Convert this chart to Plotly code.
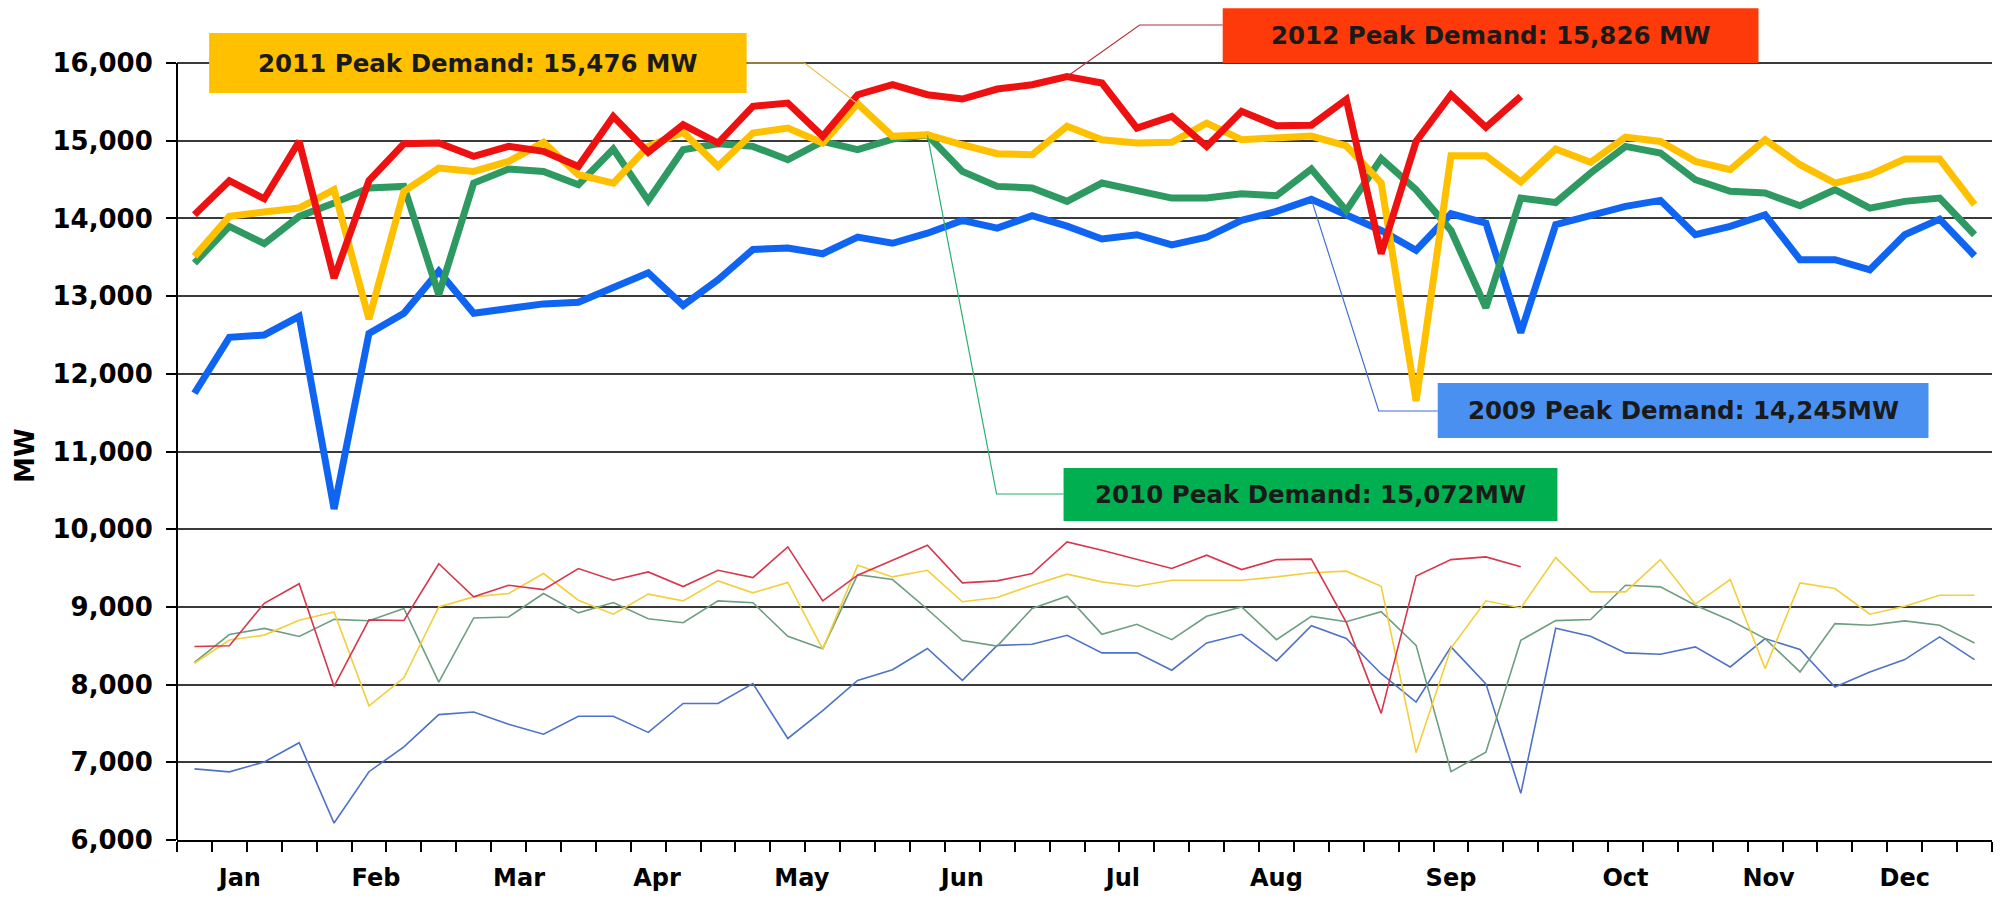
import plotly.graph_objects as go

# ---------------- data ----------------
weeks = list(range(1, 53))

peak_2009 = [11750, 12470, 12500, 12740, 10260, 12520, 12780, 13320, 12780, 12840,
             12900, 12920, 13120, 13300, 12880, 13210, 13600, 13620, 13545, 13760,
             13680, 13810, 13975, 13875, 14035, 13900, 13735, 13790, 13660, 13760,
             13975, 14090, 14245, 14040, 13845, 13590, 14060, 13940, 12530, 13920,
             14047, 14155, 14232, 13790, 13897, 14047, 13468, 13468, 13339, 13790,
             13991, 13519]
peak_2010 = [13425, 13897, 13674, 14026, 14197, 14391, 14412, 13017, 14455, 14635,
             14605, 14433, 14893, 14230, 14884, 14961, 14927, 14755, 14991, 14884,
             15021, 15072, 14605, 14412, 14391, 14219, 14455, 14361, 14262, 14262,
             14318, 14292, 14635, 14100, 14770, 14370, 13845, 12850, 14262, 14205,
             14584, 14927, 14841, 14498, 14348, 14326, 14163, 14369, 14133, 14219,
             14262, 13790]
peak_2011 = [13511, 14026, 14082, 14133, 14369, 12704, 14348, 14648, 14605, 14734,
             14979, 14562, 14455, 14927, 15110, 14670, 15099, 15163, 14970, 15476,
             15056, 15077, 14948, 14833, 14820, 15185, 15013, 14970, 14979, 15227,
             15013, 15034, 15060, 14935, 14457, 11650, 14808, 14808, 14470, 14893,
             14721, 15047, 14991, 14734, 14627, 15013, 14691, 14455, 14562, 14764,
             14764, 14176]
peak_2012 = [14047, 14485, 14253, 14991, 13232, 14485, 14961, 14970, 14800, 14927,
             14863, 14670, 15313, 14850, 15206, 14970, 15442, 15485, 15056, 15592,
             15721, 15592, 15536, 15665, 15721, 15826, 15742, 15163, 15313, 14927,
             15378, 15193, 15200, 15530, 13545, 14991, 15592, 15172, 15571]

min_2009 = [6915, 6877, 7005, 7252, 6218, 6879, 7198, 7614, 7648, 7489,
            7361, 7592, 7592, 7385, 7757, 7757, 8012, 7307, 7665, 8053,
            8192, 8465, 8055, 8505, 8519, 8635, 8408, 8408, 8185, 8536,
            8648, 8305, 8757, 8593, 8140, 7776, 8486, 8010, 6600, 8725,
            8622, 8408, 8391, 8485, 8227, 8592, 8451, 7970, 8163, 8322,
            8614, 8322]
min_2010 = [8285, 8644, 8723, 8620, 8840, 8821, 8979, 8032, 8858, 8871,
            9172, 8923, 9056, 8848, 8797, 9078, 9053, 8622, 8463, 9414,
            9352, 8970, 8567, 8495, 8979, 9137, 8648, 8777, 8579, 8880,
            9000, 8579, 8878, 8810, 8938, 8505, 6880, 7130, 8570, 8823,
            8837, 9279, 9258, 9021, 8828, 8592, 8163, 8785, 8764, 8820,
            8764, 8536]
min_2011 = [8275, 8573, 8637, 8829, 8936, 7727, 8088, 9000, 9129, 9172,
            9429, 9086, 8906, 9164, 9078, 9335, 9181, 9315, 8456, 9535,
            9386, 9471, 9066, 9121, 9279, 9421, 9322, 9266, 9343, 9343,
            9343, 9386, 9440, 9460, 9264, 7124, 8470, 9078, 8987, 9635,
            9193, 9193, 9609, 9034, 9352, 8206, 9309, 9236, 8906, 9009,
            9150, 9150]
min_2012 = [8490, 8500, 9047, 9298, 7977, 8833, 8825, 9555, 9129, 9279,
            9223, 9494, 9343, 9450, 9262, 9471, 9377, 9773, 9078, 9408,
            9601, 9794, 9309, 9335, 9429, 9837, 9730, 9609, 9494, 9665,
            9481, 9609, 9615, 8800, 7630, 9397, 9609, 9644, 9518]

month_labels = ["Jan", "Feb", "Mar", "Apr", "May", "Jun",
                "Jul", "Aug", "Sep", "Oct", "Nov", "Dec"]
month_pos = [2.3, 6.2, 10.3, 14.25, 18.4, 23.0, 27.6, 32.0, 37.0, 42.0, 46.1, 50.0]

y_ticks = list(range(6000, 16001, 1000))

# ---------------- styles ----------------
FONT = "DejaVu Sans"
thick = {
    "2009": "#0F64F2",
    "2010": "#2E9A62",
    "2011": "#FFC000",
    "2012": "#EE1111",
}
thin = {
    "2009": "#4E73C6",
    "2010": "#6E9E82",
    "2011": "#F2CF3C",
    "2012": "#D8364C",
}
box_fill = {
    "2009": "#4A90F0",
    "2010": "#00B050",
    "2011": "#FFC000",
    "2012": "#FF3A0A",
}

fig = go.Figure()

series_min = [("2009", min_2009), ("2010", min_2010), ("2011", min_2011), ("2012", min_2012)]
series_peak = [("2009", peak_2009), ("2010", peak_2010), ("2011", peak_2011), ("2012", peak_2012)]

for yr, vals in series_min:
    fig.add_trace(go.Scatter(x=weeks[:len(vals)], y=vals, mode="lines",
                             line=dict(color=thin[yr], width=1.6),
                             name=f"{yr} min", showlegend=False, hoverinfo="skip"))
for yr, vals in series_peak:
    fig.add_trace(go.Scatter(x=weeks[:len(vals)], y=vals, mode="lines",
                             line=dict(color=thick[yr], width=7),
                             name=f"{yr} peak", showlegend=False, hoverinfo="skip"))

# ---------------- callouts ----------------
# box: (x0, x1, y0, y1) in axis units, leader: start (box edge) and elbow
callouts = [
    dict(yr="2011", vals=peak_2011, text="2011 Peak Demand: 15,476 MW",
         box=(1.42, 16.82, 15614, 16386), start=(16.82, 16000), elbow=(18.48, 16000)),
    dict(yr="2012", vals=peak_2012, text="2012 Peak Demand: 15,826 MW",
         box=(30.46, 45.81, 16000, 16705), start=(30.46, 16489), elbow=(28.08, 16489)),
    dict(yr="2009", vals=peak_2009, text="2009 Peak Demand: 14,245MW",
         box=(36.62, 50.68, 11174, 11882), start=(36.62, 11521), elbow=(34.93, 11521)),
    dict(yr="2010", vals=peak_2010, text="2010 Peak Demand: 15,072MW",
         box=(25.9, 40.05, 10106, 10788), start=(25.9, 10453), elbow=(23.98, 10453)),
]
leader_col = {"2009": "#3F6FD8", "2010": "#25B070", "2011": "#E9C04A", "2012": "#B8323A"}

shapes = []
annotations = []
for c in callouts:
    vals = c["vals"]
    pk = max(vals)
    pk_x = weeks[vals.index(pk)]
    sx, sy = c["start"]
    ex, ey = c["elbow"]
    shapes.append(dict(type="path", xref="x", yref="y",
                       path=f"M {sx},{sy} L {ex},{ey} L {pk_x},{pk}",
                       line=dict(color=leader_col[c["yr"]], width=1.2), layer="above"))
    x0, x1, y0, y1 = c["box"]
    shapes.append(dict(type="rect", xref="x", yref="y", x0=x0, x1=x1, y0=y0, y1=y1,
                       fillcolor=box_fill[c["yr"]], line=dict(width=0), layer="above"))
    annotations.append(dict(x=(x0 + x1) / 2, y=(y0 + y1) / 2, xref="x", yref="y",
                            text=c["text"], showarrow=False,
                            font=dict(family=FONT, size=24.5, color="#1a1a1a", weight="bold")))

# left axis line (only up to 16,000)
shapes.append(dict(type="line", xref="paper", yref="y", x0=0, x1=0, y0=6000, y1=16000,
                   line=dict(color="black", width=2), layer="above"))

annotations.append(dict(x=-0.0838, y=0.4627, xref="paper", yref="paper", text="MW",
                        xanchor="center", yanchor="middle",
                        textangle=-90, showarrow=False,
                        font=dict(family=FONT, size=26, color="black", weight="bold")))

# page body has an 8px margin: figure is sized/offset to fit the 2001x899 window
fig.update_layout(
    width=1985, height=891,
    margin=dict(l=169, r=1, t=0, b=59, pad=0),
    paper_bgcolor="white", plot_bgcolor="white",
    shapes=shapes, annotations=annotations,
    showlegend=False,
)
fig.update_xaxes(
    range=[0.5, 52.5], showgrid=False, zeroline=False,
    showline=True, linecolor="black", linewidth=2,
    tickmode="array", tickvals=month_pos, ticktext=month_labels,
    ticks="outside", ticklen=10, tickcolor="rgba(0,0,0,0)",
    tickfont=dict(family=FONT, size=24, color="black", weight="bold"),
    ticklabelstandoff=5,
    minor=dict(tickmode="linear", tick0=0.5, dtick=1, ticks="outside", ticklen=10,
               tickwidth=2, tickcolor="black", showgrid=False),
)
fig.update_yaxes(
    range=[6000, 16708], showgrid=True, gridcolor="#3a3a3a", gridwidth=2,
    zeroline=False, showline=False,
    tickmode="array", tickvals=y_ticks, tickformat=",d",
    ticks="outside", ticklen=10, tickwidth=2, tickcolor="black",
    tickfont=dict(family=FONT, size=26, color="black", weight="bold"),
    ticklabelstandoff=8,
)

fig.write_html("out.html")
